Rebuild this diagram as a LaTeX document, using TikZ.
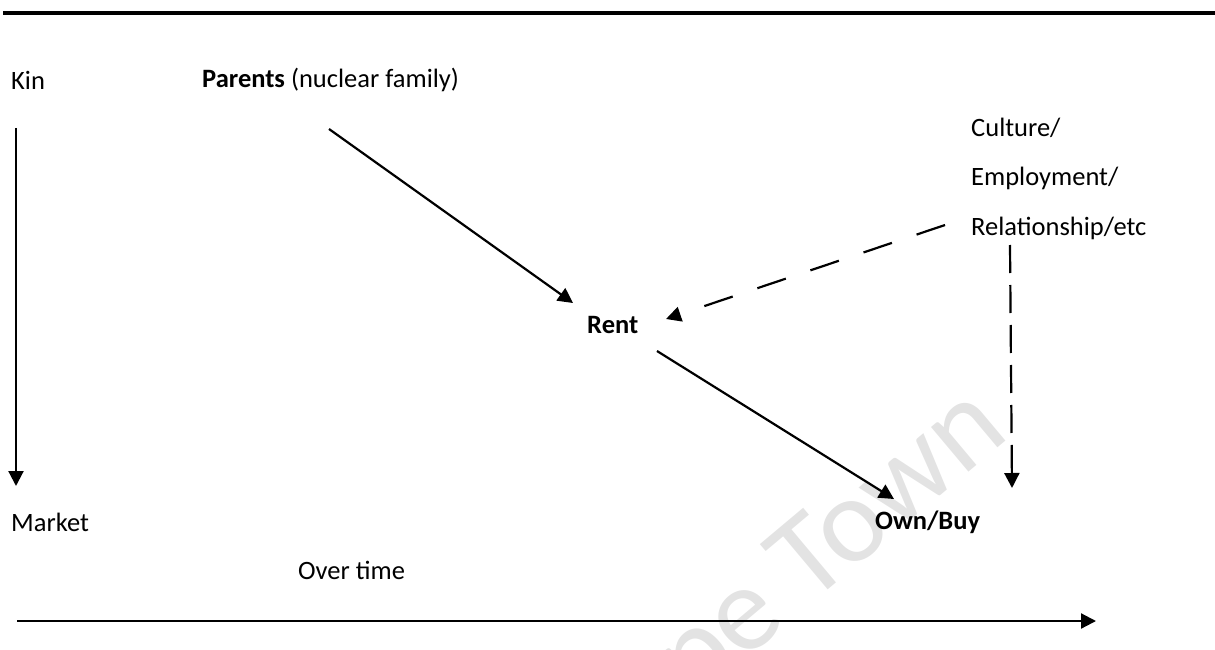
\documentclass[tikz,border=0pt]{standalone}
\usepackage{fontspec}
\setmainfont{Carlito}
\usetikzlibrary{arrows.meta}
\begin{document}
\begin{tikzpicture}[x=1pt,y=-1pt,
  lbl/.style={font=\fontsize{26.5}{30}\selectfont, inner sep=0pt, anchor=west},
  conn/.style={line width=2.2pt, -{Triangle[length=15pt,width=15pt]}},
  dashdiag/.style={dash pattern=on 30pt off 26pt},
  dashvert/.style={dash pattern=on 28pt off 12pt},
  wmark/.style={font=\fontsize{122}{122}\selectfont, text=black!11, inner sep=0pt},
 ]
\useasboundingbox (0,0) rectangle (1215,650);
\clip (0,0) rectangle (1215,650);
% watermark
\node[wmark, rotate=40, anchor=base east] (wm) at (1012,436) {University of Cape Town};
% top rule
\draw[line width=4pt] (3,13) -- (1215,13);
% labels
\node[lbl] (kin) at (11,80) {Kin};
\node[lbl] (parents) at (202,80) {\textbf{Parents} (nuclear family)};
\node[lbl] (culture) at (971,128) {Culture/};
\node[lbl] (employ) at (971,178) {Employment/};
\node[lbl] (relat) at (971,228) {Relationship/etc};
\node[lbl] (rent) at (587,325) {\textbf{Rent}};
\node[lbl] (market) at (11,522) {Market};
\node[lbl] (own) at (875,522) {\textbf{Own/Buy}};
\node[lbl] (overtime) at (298,570) {Over time};
% connector end points
\coordinate (kinS) at (16,128);
\coordinate (kinE) at (16,486);
\coordinate (parS) at (329,129);
\coordinate (parE) at (573,303);
\coordinate (relS) at (945,225);
\coordinate (relE) at (666,319);
\coordinate (rentS) at (657,351);
\coordinate (rentE) at (894,499);
\coordinate (vS) at (1010,245);
\coordinate (vE) at (1012,488);
\coordinate (tS) at (17,621);
\coordinate (tE) at (1096,621);
% connectors
\draw[conn] (kinS) -- (kinE);
\draw[conn] (parS) -- (parE);
\draw[conn, dashdiag] (relS) -- (relE);
\draw[conn] (rentS) -- (rentE);
\draw[conn, dashvert] (vS) -- (vE);
\draw[conn] (tS) -- (tE);
\end{tikzpicture}
\end{document}
